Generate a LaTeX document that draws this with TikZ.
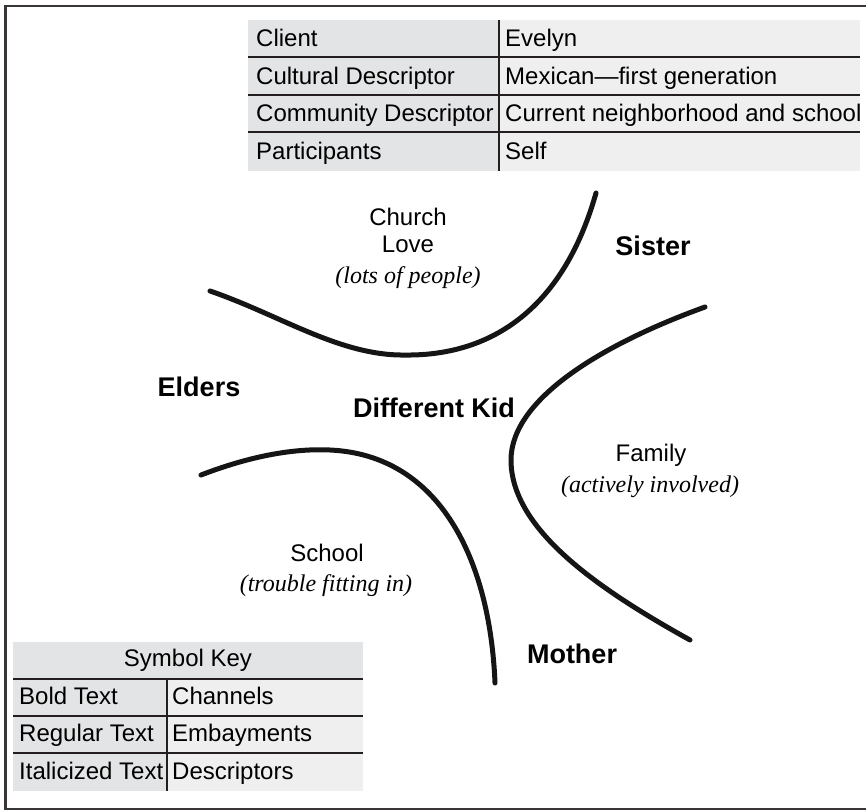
\documentclass[tikz,border=0pt]{standalone}
\usepackage{fontspec}
\setmainfont{Liberation Sans}
\newfontfamily\descfont{Liberation Serif}
\definecolor{rule}{HTML}{231F20}
\definecolor{cellA}{HTML}{E3E4E5}
\definecolor{cellB}{HTML}{EFEFEF}
\definecolor{ink}{HTML}{151515}
\tikzset{
  celltext/.style={anchor=base west, inner sep=0pt, font=\fontsize{24}{28}\selectfont},
  regular/.style={anchor=base, inner sep=0pt, align=center, font=\fontsize{24}{28}\selectfont},
  channel/.style={anchor=base, inner sep=0pt, font=\fontsize{27}{32}\selectfont\bfseries},
  descriptor/.style={anchor=base, inner sep=0pt, font=\fontsize{24}{28}\selectfont\descfont\itshape},
  tablerule/.style={draw=rule, line width=2pt},
  boundary/.style={draw=ink, line width=5pt, line cap=round}
}
\begin{document}
\begin{tikzpicture}[x=1pt, y=-1pt]
\useasboundingbox (0,0) rectangle (866,811);
\clip (0,0) rectangle (866,811);

% outer frame
\draw[draw=rule!90, line width=2.6pt] (5.3,6) rectangle (880,809);

% client table
\fill[cellA] (248,20) rectangle (499,171);
\fill[cellB] (499,20) rectangle (860,171);
\foreach \y in {57,94.5,132} \draw[tablerule] (248,\y) -- (860,\y);
\draw[tablerule] (499,20) -- (499,171);
\node[celltext] (c1) at (256,46.7) {Client};
\node[celltext] (c2) at (256,84.1) {Cultural Descriptor};
\node[celltext] (c3) at (256,121.6) {Community Descriptor};
\node[celltext] (c4) at (256,159) {Participants};
\node[celltext] (v1) at (505,46.7) {Evelyn};
\node[celltext] (v2) at (505,84.1) {Mexican—first generation};
\node[celltext] (v3) at (505,121.6) {Current neighborhood and school};
\node[celltext] (v4) at (505,159) {Self};

% symbol key
\fill[cellA] (13,641.7) rectangle (363,678.7);
\fill[cellA] (13,678.7) rectangle (167,791);
\fill[cellB] (167,678.7) rectangle (363,791);
\foreach \y in {678.7,715.7,752.7} \draw[tablerule] (13,\y) -- (363,\y);
\draw[tablerule] (167,678.7) -- (167,791);
\node[regular] (key) at (188,666.7) {Symbol Key};
\node[celltext] (k1) at (19,704) {Bold Text};
\node[celltext] (k2) at (19,741.5) {Regular Text};
\node[celltext] (k3) at (19,779) {Italicized Text};
\node[celltext] (m1) at (172,704) {Channels};
\node[celltext] (m2) at (172,741.5) {Embayments};
\node[celltext] (m3) at (172,779) {Descriptors};

% embayment boundaries
\draw[boundary] (210,291) .. controls (280,315) and (340,356) .. (405,355)
                .. controls (480,356) and (560,320) .. (596,193);
\draw[boundary] (705,307) .. controls (600,345) and (511,400) .. (511,460)
                .. controls (511,530) and (600,590) .. (690,640);
\draw[boundary] (201,475) .. controls (245,458) and (290,448) .. (330,450)
                .. controls (440,455) and (490,560) .. (495,683);

% embayments and descriptors
\node[regular] (church) at (408,225) {Church};
\node[regular] (love) at (408,252) {Love};
\node[descriptor] (lots) at (408,283) {(lots of people)};
\node[regular] (family) at (651,461) {Family};
\node[descriptor] (active) at (650,492) {(actively involved)};
\node[regular] (school) at (327,561) {School};
\node[descriptor] (trouble) at (326,591) {(trouble fitting in)};

% channels
\node[channel] (sister) at (653,255) {Sister};
\node[channel] (elders) at (199,396) {Elders};
\node[channel] (kid) at (434,417) {Different Kid};
\node[channel] (mother) at (572,663) {Mother};
\end{tikzpicture}
\end{document}
